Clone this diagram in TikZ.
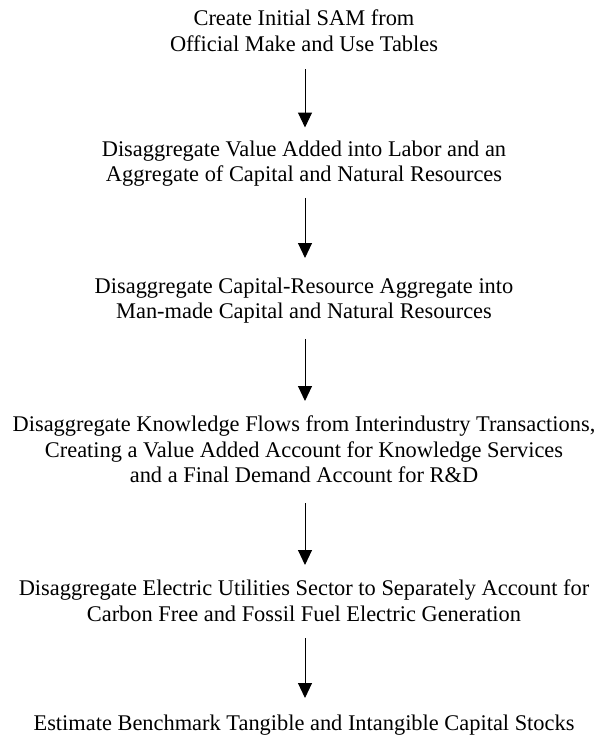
\documentclass[tikz,border=0pt]{standalone}
\usepackage{fontspec}
\setmainfont{Liberation Serif}
\usetikzlibrary{arrows.meta}
\begin{document}
\begin{tikzpicture}[x=1pt,y=1pt,
  stepbox/.style={align=center,anchor=north,inner sep=0pt,
    font=\fontsize{22.4}{25.6}\selectfont},
  flow/.style={line width=1pt,-{Triangle[width=14pt,length=15pt]}}]
  \useasboundingbox (0,0) rectangle (598,-736);

  \node[stepbox] (s1) at (304,-9.5) {Create Initial SAM from\\Official Make and Use Tables};
  \node[stepbox] (s2) at (304,-140.5) {Disaggregate Value Added into Labor and an\\Aggregate of Capital and Natural Resources};
  \node[stepbox] (s3) at (304,-277.5) {Disaggregate Capital-Resource Aggregate into\\Man-made Capital and Natural Resources};
  \node[stepbox] (s4) at (304,-415.5) {Disaggregate Knowledge Flows from Interindustry Transactions,\\Creating a Value Added Account for Knowledge Services\\and a Final Demand Account for R\&D};
  \node[stepbox] (s5) at (304,-579.5) {Disaggregate Electric Utilities Sector to Separately Account for\\Carbon Free and Fossil Fuel Electric Generation};
  \node[stepbox] (s6) at (304,-714.5) {Estimate Benchmark Tangible and Intangible Capital Stocks};

  \draw[flow,shorten <=18pt,shorten >=13pt] (s1.south -| 305,0) -- (s2.north -| 305,0);
  \draw[flow,shorten <=11pt,shorten >=19.5pt] (s2.south -| 305,0) -- (s3.north -| 305,0);
  \draw[flow,shorten <=15pt,shorten >=14.5pt] (s3.south -| 305,0) -- (s4.north -| 305,0);
  \draw[flow,shorten <=20pt,shorten >=14.5pt] (s4.south -| 305,0) -- (s5.north -| 305,0);
  \draw[flow,shorten <=17pt,shorten >=16.5pt] (s5.south -| 305,0) -- (s6.north -| 305,0);
\end{tikzpicture}
\end{document}
